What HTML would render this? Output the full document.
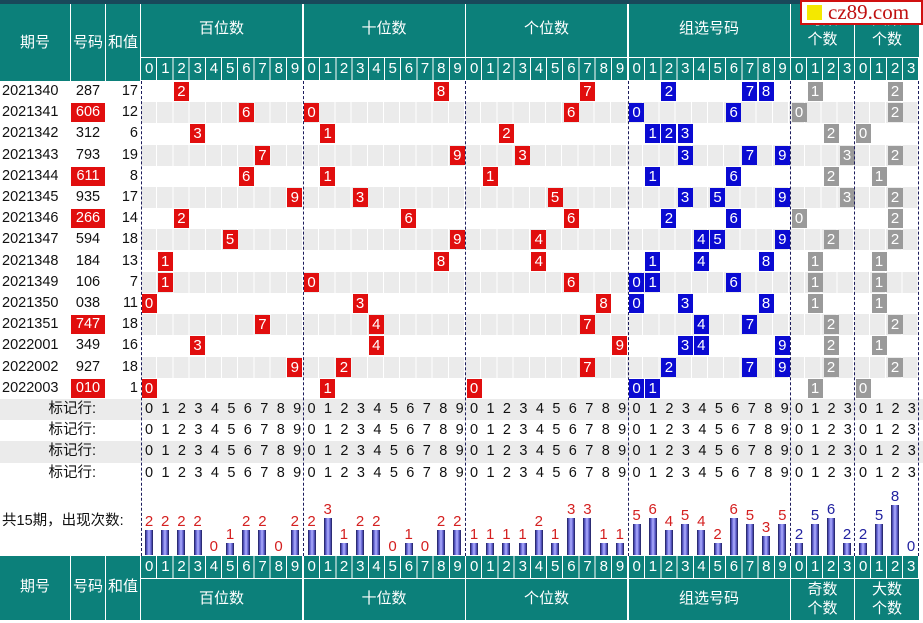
<!DOCTYPE html>
<html><head><meta charset="utf-8"><style>
*{margin:0;padding:0;box-sizing:border-box}
i{font-style:normal}
body{width:923px;height:623px;overflow:hidden;background:#fff;position:relative;font-family:"Liberation Sans","Noto Sans CJK SC",sans-serif;font-size:14px;color:#111}
.a{position:absolute}
.t{position:absolute;background:#0c807a;color:#fff;text-align:center;font-size:15px}
.dg{position:absolute;background:#0c807a;color:#fff;font-size:15px;height:22px;line-height:22px;white-space:nowrap;overflow:hidden}
.d10{width:162px;letter-spacing:7.86px;padding-left:4px;background-image:repeating-linear-gradient(90deg,transparent 0 15.2px,#fff 15.2px 16.2px)}
.d4{width:64px;letter-spacing:7.66px;padding-left:4px;background-image:repeating-linear-gradient(90deg,transparent 0 15px,#fff 15px 16px)}
.row{position:absolute;left:0;width:923px;height:21.2px}
.gr .bg{position:absolute;left:141px;width:778px;top:0;height:21px;background:repeating-linear-gradient(90deg,#ebebeb 0 15.2px,#fff 15.2px 16.2px)}
.p{position:absolute;left:2px;top:0;line-height:21px;font-size:14.5px}
.n{position:absolute;left:71px;width:34px;top:1px;height:19px;line-height:19px;text-align:center;font-size:14.5px}
.n.rd{background:#e10e0e;color:#fff}
.s{position:absolute;left:100px;width:38px;text-align:right;top:0;line-height:21px;font-size:14.5px}
.x{position:absolute;top:1px;height:19px;width:15px;left:calc(var(--s) + var(--c)*var(--w) + .5px);color:#fff;text-align:center;line-height:19px;font-size:15px}
.B{--s:141px;--w:16.2px}.S{--s:303.5px;--w:16.2px}.G{--s:466px;--w:16.2px}.Z{--s:628.5px;--w:16.2px}.O{--s:791px;--w:16px}.D{--s:855px;--w:16px}
.r{background:#e10e0e}.b{background:#0a0ad2}.g{background:#9a9a9a}
.mk{position:absolute;left:0;width:923px;height:21.2px}
.mk.gy{background:#ebebeb}
.mk .l{position:absolute;left:0;width:96px;text-align:right;line-height:21px;font-size:14.5px}
.m{position:absolute;top:0;line-height:21px;font-size:14.5px;white-space:nowrap}
.m10{letter-spacing:8.4px;padding-left:4px}
.m4{letter-spacing:8.2px;padding-left:4px}
.vl{position:absolute;top:81px;height:475px;width:0;border-left:1.5px dashed #1c1c5c}
.w{position:absolute;bottom:68px;width:16px;left:calc(var(--s) + var(--c)*var(--w));text-align:center;font-size:15px;line-height:15px;color:#d42020}
.w.bl{color:#2222a0}
.w i{display:block;margin:1px auto 0;width:8px;background:linear-gradient(90deg,#1a1a55 0,#6060d0 25%,#b0b0ff 50%,#6060d0 75%,#1a1a55 100%)}
</style></head><body>
<div class="a" style="left:0;top:0;width:923px;height:81px;background:#fff"></div>
<div class="a" style="left:0;top:0;width:923px;height:4px;background:#19485a"></div>
<div class="t" style="left:0;top:4px;width:70px;height:77px;line-height:77px">期号</div>
<div class="t" style="left:71px;top:4px;width:34px;height:77px;line-height:77px">号码</div>
<div class="t" style="left:106px;top:4px;width:34px;height:77px;line-height:77px">和值</div>
<div class="t" style="left:141px;top:4px;width:161px;height:53px;line-height:50px">百位数</div>
<div class="t" style="left:303.5px;top:4px;width:161px;height:53px;line-height:50px">十位数</div>
<div class="t" style="left:466px;top:4px;width:161px;height:53px;line-height:50px">个位数</div>
<div class="t" style="left:628.5px;top:4px;width:161px;height:53px;line-height:50px">组选号码</div>
<div class="t" style="left:791px;top:4px;width:63px;height:53px;line-height:20px;padding-top:6px">奇数<br>个数</div>
<div class="t" style="left:855px;top:4px;width:64px;height:53px;line-height:20px;padding-top:6px">大数<br>个数</div>
<div class="dg d10" style="left:141px;top:58px">0123456789</div>
<div class="dg d10" style="left:303.5px;top:58px">0123456789</div>
<div class="dg d10" style="left:466px;top:58px">0123456789</div>
<div class="dg d10" style="left:628.5px;top:58px">0123456789</div>
<div class="dg d4" style="left:791px;top:58px">0123</div>
<div class="dg d4" style="left:855px;top:58px">0123</div>
<div class="a" style="left:800px;top:0;width:123px;height:25px;background:#fff;border:2px solid #d01010;font-family:'Liberation Serif',serif;font-size:21px;color:#c01010;line-height:20px;padding-left:26px">cz89.com<span class="a" style="left:5px;top:3px;width:15px;height:15px;background:#f4e800"></span></div>

<div class="row" style="top:81px"><span class="p">2021340</span><span class="n">287</span><span class="s">17</span><i class="x r B" style="--c:2">2</i><i class="x r S" style="--c:8">8</i><i class="x r G" style="--c:7">7</i><i class="x b Z" style="--c:2">2</i><i class="x b Z" style="--c:7">7</i><i class="x b Z" style="--c:8">8</i><i class="x g O" style="--c:1">1</i><i class="x g D" style="--c:2">2</i></div>
<div class="row gr" style="top:102.2px"><div class="bg"></div><span class="p">2021341</span><span class="n rd">606</span><span class="s">12</span><i class="x r B" style="--c:6">6</i><i class="x r S" style="--c:0">0</i><i class="x r G" style="--c:6">6</i><i class="x b Z" style="--c:0">0</i><i class="x b Z" style="--c:6">6</i><i class="x g O" style="--c:0">0</i><i class="x g D" style="--c:2">2</i></div>
<div class="row" style="top:123.4px"><span class="p">2021342</span><span class="n">312</span><span class="s">6</span><i class="x r B" style="--c:3">3</i><i class="x r S" style="--c:1">1</i><i class="x r G" style="--c:2">2</i><i class="x b Z" style="--c:1">1</i><i class="x b Z" style="--c:2">2</i><i class="x b Z" style="--c:3">3</i><i class="x g O" style="--c:2">2</i><i class="x g D" style="--c:0">0</i></div>
<div class="row gr" style="top:144.6px"><div class="bg"></div><span class="p">2021343</span><span class="n">793</span><span class="s">19</span><i class="x r B" style="--c:7">7</i><i class="x r S" style="--c:9">9</i><i class="x r G" style="--c:3">3</i><i class="x b Z" style="--c:3">3</i><i class="x b Z" style="--c:7">7</i><i class="x b Z" style="--c:9">9</i><i class="x g O" style="--c:3">3</i><i class="x g D" style="--c:2">2</i></div>
<div class="row" style="top:165.8px"><span class="p">2021344</span><span class="n rd">611</span><span class="s">8</span><i class="x r B" style="--c:6">6</i><i class="x r S" style="--c:1">1</i><i class="x r G" style="--c:1">1</i><i class="x b Z" style="--c:1">1</i><i class="x b Z" style="--c:6">6</i><i class="x g O" style="--c:2">2</i><i class="x g D" style="--c:1">1</i></div>
<div class="row gr" style="top:187px"><div class="bg"></div><span class="p">2021345</span><span class="n">935</span><span class="s">17</span><i class="x r B" style="--c:9">9</i><i class="x r S" style="--c:3">3</i><i class="x r G" style="--c:5">5</i><i class="x b Z" style="--c:3">3</i><i class="x b Z" style="--c:5">5</i><i class="x b Z" style="--c:9">9</i><i class="x g O" style="--c:3">3</i><i class="x g D" style="--c:2">2</i></div>
<div class="row" style="top:208.2px"><span class="p">2021346</span><span class="n rd">266</span><span class="s">14</span><i class="x r B" style="--c:2">2</i><i class="x r S" style="--c:6">6</i><i class="x r G" style="--c:6">6</i><i class="x b Z" style="--c:2">2</i><i class="x b Z" style="--c:6">6</i><i class="x g O" style="--c:0">0</i><i class="x g D" style="--c:2">2</i></div>
<div class="row gr" style="top:229.4px"><div class="bg"></div><span class="p">2021347</span><span class="n">594</span><span class="s">18</span><i class="x r B" style="--c:5">5</i><i class="x r S" style="--c:9">9</i><i class="x r G" style="--c:4">4</i><i class="x b Z" style="--c:4">4</i><i class="x b Z" style="--c:5">5</i><i class="x b Z" style="--c:9">9</i><i class="x g O" style="--c:2">2</i><i class="x g D" style="--c:2">2</i></div>
<div class="row" style="top:250.6px"><span class="p">2021348</span><span class="n">184</span><span class="s">13</span><i class="x r B" style="--c:1">1</i><i class="x r S" style="--c:8">8</i><i class="x r G" style="--c:4">4</i><i class="x b Z" style="--c:1">1</i><i class="x b Z" style="--c:4">4</i><i class="x b Z" style="--c:8">8</i><i class="x g O" style="--c:1">1</i><i class="x g D" style="--c:1">1</i></div>
<div class="row gr" style="top:271.8px"><div class="bg"></div><span class="p">2021349</span><span class="n">106</span><span class="s">7</span><i class="x r B" style="--c:1">1</i><i class="x r S" style="--c:0">0</i><i class="x r G" style="--c:6">6</i><i class="x b Z" style="--c:0">0</i><i class="x b Z" style="--c:1">1</i><i class="x b Z" style="--c:6">6</i><i class="x g O" style="--c:1">1</i><i class="x g D" style="--c:1">1</i></div>
<div class="row" style="top:293px"><span class="p">2021350</span><span class="n">038</span><span class="s">11</span><i class="x r B" style="--c:0">0</i><i class="x r S" style="--c:3">3</i><i class="x r G" style="--c:8">8</i><i class="x b Z" style="--c:0">0</i><i class="x b Z" style="--c:3">3</i><i class="x b Z" style="--c:8">8</i><i class="x g O" style="--c:1">1</i><i class="x g D" style="--c:1">1</i></div>
<div class="row gr" style="top:314.2px"><div class="bg"></div><span class="p">2021351</span><span class="n rd">747</span><span class="s">18</span><i class="x r B" style="--c:7">7</i><i class="x r S" style="--c:4">4</i><i class="x r G" style="--c:7">7</i><i class="x b Z" style="--c:4">4</i><i class="x b Z" style="--c:7">7</i><i class="x g O" style="--c:2">2</i><i class="x g D" style="--c:2">2</i></div>
<div class="row" style="top:335.4px"><span class="p">2022001</span><span class="n">349</span><span class="s">16</span><i class="x r B" style="--c:3">3</i><i class="x r S" style="--c:4">4</i><i class="x r G" style="--c:9">9</i><i class="x b Z" style="--c:3">3</i><i class="x b Z" style="--c:4">4</i><i class="x b Z" style="--c:9">9</i><i class="x g O" style="--c:2">2</i><i class="x g D" style="--c:1">1</i></div>
<div class="row gr" style="top:356.6px"><div class="bg"></div><span class="p">2022002</span><span class="n">927</span><span class="s">18</span><i class="x r B" style="--c:9">9</i><i class="x r S" style="--c:2">2</i><i class="x r G" style="--c:7">7</i><i class="x b Z" style="--c:2">2</i><i class="x b Z" style="--c:7">7</i><i class="x b Z" style="--c:9">9</i><i class="x g O" style="--c:2">2</i><i class="x g D" style="--c:2">2</i></div>
<div class="row" style="top:377.8px"><span class="p">2022003</span><span class="n rd">010</span><span class="s">1</span><i class="x r B" style="--c:0">0</i><i class="x r S" style="--c:1">1</i><i class="x r G" style="--c:0">0</i><i class="x b Z" style="--c:0">0</i><i class="x b Z" style="--c:1">1</i><i class="x g O" style="--c:1">1</i><i class="x g D" style="--c:0">0</i></div>

<div class="mk gy" style="top:399px"><span class="l">标记行:</span><span class="m m10" style="left:141px">0123456789</span><span class="m m10" style="left:303.5px">0123456789</span><span class="m m10" style="left:466px">0123456789</span><span class="m m10" style="left:628.5px">0123456789</span><span class="m m4" style="left:791px">0123</span><span class="m m4" style="left:855px">0123</span></div>
<div class="mk" style="top:420.2px"><span class="l">标记行:</span><span class="m m10" style="left:141px">0123456789</span><span class="m m10" style="left:303.5px">0123456789</span><span class="m m10" style="left:466px">0123456789</span><span class="m m10" style="left:628.5px">0123456789</span><span class="m m4" style="left:791px">0123</span><span class="m m4" style="left:855px">0123</span></div>
<div class="mk gy" style="top:441.4px"><span class="l">标记行:</span><span class="m m10" style="left:141px">0123456789</span><span class="m m10" style="left:303.5px">0123456789</span><span class="m m10" style="left:466px">0123456789</span><span class="m m10" style="left:628.5px">0123456789</span><span class="m m4" style="left:791px">0123</span><span class="m m4" style="left:855px">0123</span></div>
<div class="mk" style="top:462.6px"><span class="l">标记行:</span><span class="m m10" style="left:141px">0123456789</span><span class="m m10" style="left:303.5px">0123456789</span><span class="m m10" style="left:466px">0123456789</span><span class="m m10" style="left:628.5px">0123456789</span><span class="m m4" style="left:791px">0123</span><span class="m m4" style="left:855px">0123</span></div>

<div class="vl" style="left:140.5px"></div><div class="vl" style="left:302.5px"></div><div class="vl" style="left:465px"></div><div class="vl" style="left:627.5px"></div><div class="vl" style="left:790px"></div><div class="vl" style="left:854px"></div><div class="vl" style="left:918px"></div>

<div class="a" style="left:2px;top:511px;font-size:14.5px;line-height:20px">共15期，出现次数:</div>
<div class="w B" style="--c:0">2<i style="height:25px"></i></div><div class="w B" style="--c:1">2<i style="height:25px"></i></div><div class="w B" style="--c:2">2<i style="height:25px"></i></div><div class="w B" style="--c:3">2<i style="height:25px"></i></div><div class="w B" style="--c:4">0<i style="height:0"></i></div><div class="w B" style="--c:5">1<i style="height:12.5px"></i></div><div class="w B" style="--c:6">2<i style="height:25px"></i></div><div class="w B" style="--c:7">2<i style="height:25px"></i></div><div class="w B" style="--c:8">0<i style="height:0"></i></div><div class="w B" style="--c:9">2<i style="height:25px"></i></div>
<div class="w S" style="--c:0">2<i style="height:25px"></i></div><div class="w S" style="--c:1">3<i style="height:37.5px"></i></div><div class="w S" style="--c:2">1<i style="height:12.5px"></i></div><div class="w S" style="--c:3">2<i style="height:25px"></i></div><div class="w S" style="--c:4">2<i style="height:25px"></i></div><div class="w S" style="--c:5">0<i style="height:0"></i></div><div class="w S" style="--c:6">1<i style="height:12.5px"></i></div><div class="w S" style="--c:7">0<i style="height:0"></i></div><div class="w S" style="--c:8">2<i style="height:25px"></i></div><div class="w S" style="--c:9">2<i style="height:25px"></i></div>
<div class="w G" style="--c:0">1<i style="height:12.5px"></i></div><div class="w G" style="--c:1">1<i style="height:12.5px"></i></div><div class="w G" style="--c:2">1<i style="height:12.5px"></i></div><div class="w G" style="--c:3">1<i style="height:12.5px"></i></div><div class="w G" style="--c:4">2<i style="height:25px"></i></div><div class="w G" style="--c:5">1<i style="height:12.5px"></i></div><div class="w G" style="--c:6">3<i style="height:37.5px"></i></div><div class="w G" style="--c:7">3<i style="height:37.5px"></i></div><div class="w G" style="--c:8">1<i style="height:12.5px"></i></div><div class="w G" style="--c:9">1<i style="height:12.5px"></i></div>
<div class="w Z" style="--c:0">5<i style="height:31px"></i></div><div class="w Z" style="--c:1">6<i style="height:37px"></i></div><div class="w Z" style="--c:2">4<i style="height:25px"></i></div><div class="w Z" style="--c:3">5<i style="height:31px"></i></div><div class="w Z" style="--c:4">4<i style="height:25px"></i></div><div class="w Z" style="--c:5">2<i style="height:12.4px"></i></div><div class="w Z" style="--c:6">6<i style="height:37px"></i></div><div class="w Z" style="--c:7">5<i style="height:31px"></i></div><div class="w Z" style="--c:8">3<i style="height:18.6px"></i></div><div class="w Z" style="--c:9">5<i style="height:31px"></i></div>
<div class="w O bl" style="--c:0">2<i style="height:12.4px"></i></div><div class="w O bl" style="--c:1">5<i style="height:31px"></i></div><div class="w O bl" style="--c:2">6<i style="height:37px"></i></div><div class="w O bl" style="--c:3">2<i style="height:12.4px"></i></div>
<div class="w D bl" style="--c:0">2<i style="height:12.4px"></i></div><div class="w D bl" style="--c:1">5<i style="height:31px"></i></div><div class="w D bl" style="--c:2">8<i style="height:50px"></i></div><div class="w D bl" style="--c:3">0<i style="height:0"></i></div>

<div class="t" style="left:0;top:556px;width:70px;height:64px;line-height:62px">期号</div>
<div class="t" style="left:71px;top:556px;width:34px;height:64px;line-height:62px">号码</div>
<div class="t" style="left:106px;top:556px;width:34px;height:64px;line-height:62px">和值</div>
<div class="dg d10" style="left:141px;top:556px">0123456789</div>
<div class="dg d10" style="left:303.5px;top:556px">0123456789</div>
<div class="dg d10" style="left:466px;top:556px">0123456789</div>
<div class="dg d10" style="left:628.5px;top:556px">0123456789</div>
<div class="dg d4" style="left:791px;top:556px">0123</div>
<div class="dg d4" style="left:855px;top:556px">0123</div>
<div class="t" style="left:141px;top:579px;width:161px;height:41px;line-height:40px">百位数</div>
<div class="t" style="left:303.5px;top:579px;width:161px;height:41px;line-height:40px">十位数</div>
<div class="t" style="left:466px;top:579px;width:161px;height:41px;line-height:40px">个位数</div>
<div class="t" style="left:628.5px;top:579px;width:161px;height:41px;line-height:40px">组选号码</div>
<div class="t" style="left:791px;top:579px;width:63px;height:41px;line-height:19px;padding-top:1px">奇数<br>个数</div>
<div class="t" style="left:855px;top:579px;width:64px;height:41px;line-height:19px;padding-top:1px">大数<br>个数</div>
</body></html>
